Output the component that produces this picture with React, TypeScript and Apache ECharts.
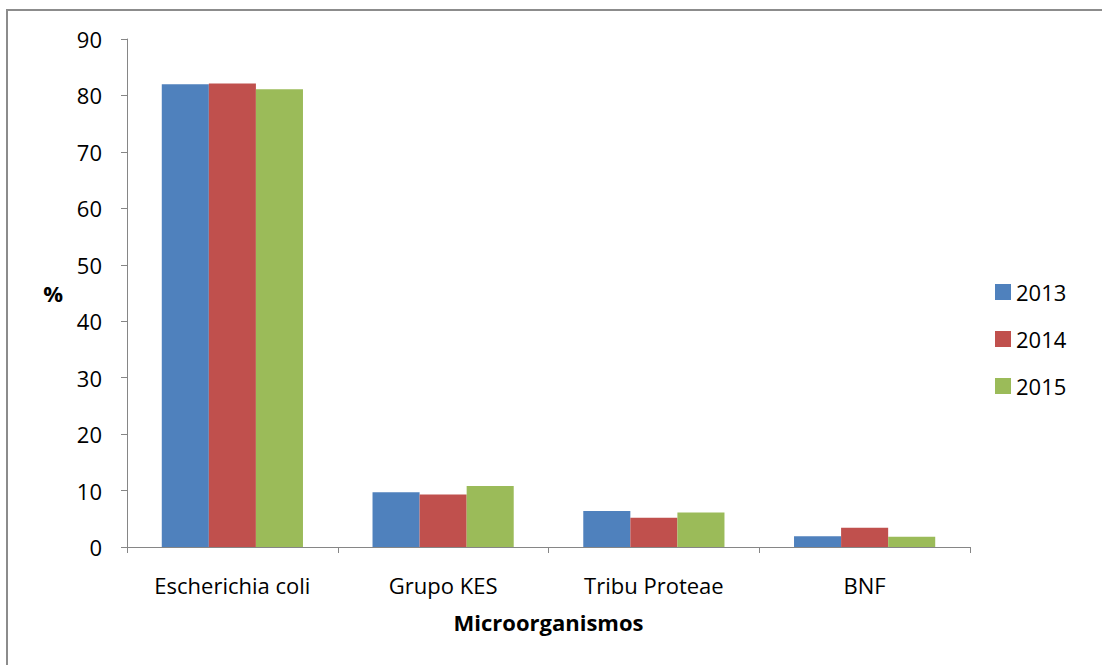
import React, { useEffect, useRef } from "react";
import * as echarts from "echarts";

const categories = ["Escherichia coli", "Grupo KES", "Tribu Proteae", "BNF"];
const years = ["2013", "2014", "2015"];
const values2013 = [82.0, 9.7, 6.4, 1.9];
const values2014 = [82.1, 9.3, 5.2, 3.4];
const values2015 = [81.1, 10.8, 6.1, 1.8];
const colors = ["#4F81BD", "#C0504D", "#9BBB59"];

const FONT = "'Open Sans', 'Noto Sans', sans-serif";

export default function App() {
  const ref = useRef<HTMLDivElement>(null);
  useEffect(() => {
    if (!ref.current) return;
    const chart = echarts.init(ref.current, null, { renderer: "svg" });
    const seriesData = [values2013, values2014, values2015];
    chart.setOption({
      animation: false,
      backgroundColor: "#ffffff",
      textStyle: { fontFamily: FONT },
      grid: { left: 127, right: 132, top: 39, bottom: 118 },
      legend: {
        orient: "vertical",
        left: 990,
        top: 276,
        itemWidth: 16,
        itemHeight: 16,
        itemGap: 25,
        icon: "rect",
        textStyle: { fontSize: 22, lineHeight: 22, color: "#000", fontFamily: FONT },
        data: years,
      },
      xAxis: {
        type: "category",
        data: categories,
        name: "Microorganismos",
        nameLocation: "middle",
        nameGap: 64,
        nameTextStyle: { fontSize: 22, fontWeight: "bold", color: "#000", fontFamily: FONT },
        axisLine: { lineStyle: { color: "#868686", width: 1 } },
        axisTick: { show: true, length: 6, lineStyle: { color: "#868686" } },
        axisLabel: { fontSize: 22, color: "#000", margin: 27, fontFamily: FONT },
      },
      yAxis: {
        type: "value",
        min: 0,
        max: 90,
        interval: 10,
        name: "%",
        nameLocation: "middle",
        nameRotate: 0,
        nameGap: 64,
        nameTextStyle: { fontSize: 22, fontWeight: "bold", color: "#000", fontFamily: FONT },
        axisLine: { show: true, lineStyle: { color: "#868686", width: 1 } },
        axisTick: { show: true, length: 6, lineStyle: { color: "#868686" } },
        splitLine: { show: false },
        axisLabel: { fontSize: 22, color: "#000", margin: 25, fontFamily: FONT },
      },
      series: years.map((y, i) => ({
        name: y,
        type: "bar",
        data: seriesData[i],
        barGap: "0%",
        barCategoryGap: "33%",
        itemStyle: { color: colors[i] },
      })),
      graphic: [
        {
          type: "rect",
          shape: { x: 7, y: 10, width: 1200, height: 800 },
          style: { fill: "none", stroke: "#8c8c8c", lineWidth: 2 },
          silent: true,
        },
      ],
    });
    return () => chart.dispose();
  }, []);
  return (
    <div
      ref={ref}
      style={{ position: "fixed", left: 0, top: 0, width: 1102, height: 665 }}
    />
  );
}
